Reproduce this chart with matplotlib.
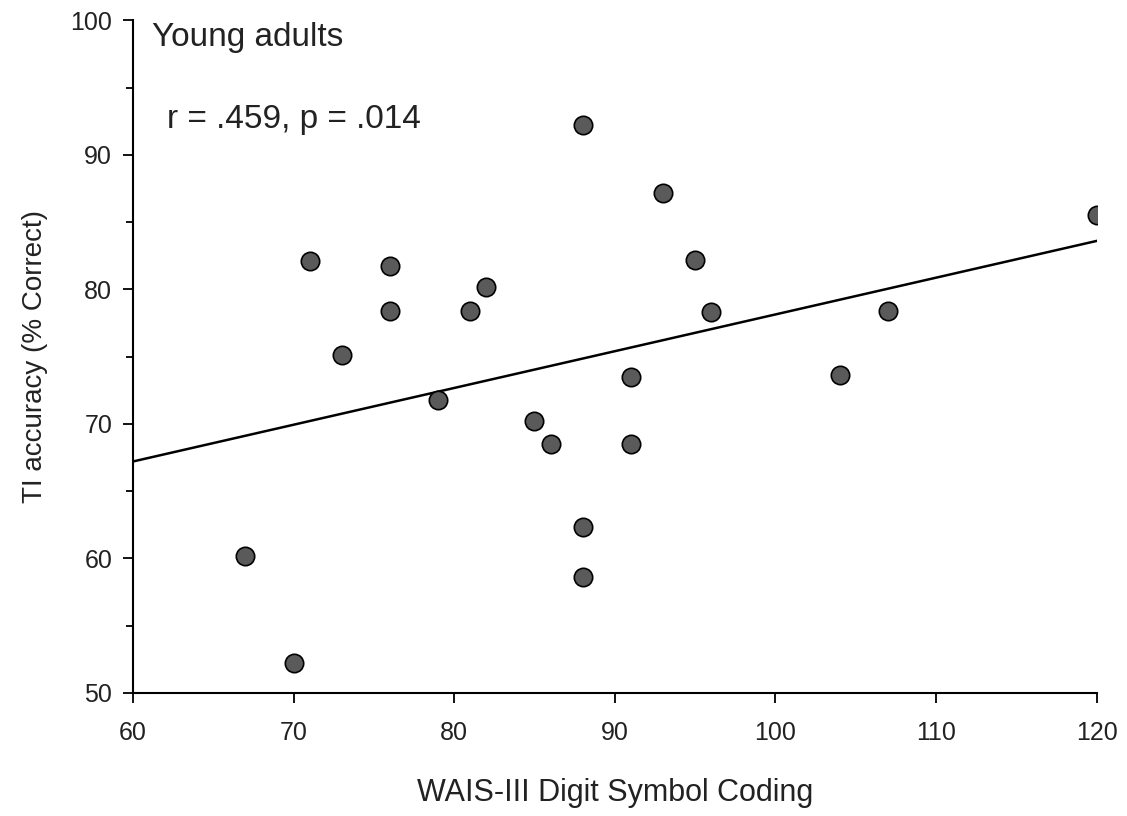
import numpy as np
import matplotlib.pyplot as plt

plt.rcParams['font.family'] = ['Liberation Sans', 'DejaVu Sans']

# WAIS-III digit symbol coding vs TI accuracy, young adults
coding = [67, 70, 71, 73, 76, 76, 79, 81, 82, 85, 86, 88, 88, 88,
          91, 91, 93, 95, 96, 104, 107, 120]
accuracy = [60.2, 52.2, 82.1, 75.1, 81.7, 78.4, 71.8, 78.4, 80.2, 70.2, 68.5, 92.2, 62.3, 58.6,
            73.5, 68.5, 87.2, 82.2, 78.3, 73.6, 78.4, 85.5]

# fitted line end points
fit_x = [60, 120]
fit_y = [67.2, 83.6]

fig = plt.figure(figsize=(11.27, 8.16), dpi=100)
ax = fig.add_axes([0.118, 0.151, 0.855, 0.824])

ax.plot(fit_x, fit_y, color='black', linewidth=1.8, zorder=2)
ax.scatter(coding, accuracy, s=175, color='#5a5a5a', edgecolors='black',
           linewidths=1.2, zorder=3)

ax.set_xlim(60, 120)
ax.set_ylim(50, 100)
ax.set_xticks(np.arange(60, 121, 10))
ax.set_yticks(np.arange(50, 101, 10))
ax.set_yticks(np.arange(55, 100, 10), minor=True)

ax.spines['top'].set_visible(False)
ax.spines['right'].set_visible(False)
ax.spines['left'].set_linewidth(1.5)
ax.spines['bottom'].set_linewidth(1.5)
ax.tick_params(axis='both', which='major', length=7, width=1.3, labelsize=18, pad=8,
               labelcolor='#222222')
ax.tick_params(axis='x', which='major', pad=13)
ax.tick_params(axis='y', which='minor', length=5, width=1.3)

ax.set_xlabel('WAIS-III Digit Symbol Coding', fontsize=22, labelpad=24, color='#222222')
ax.set_ylabel('TI accuracy (% Correct)', fontsize=20, labelpad=16, color='#222222')

ax.text(61.2, 98.1, 'Young adults', fontsize=24, va='baseline', ha='left', color='#222222')
ax.text(62.1, 92.0, 'r = .459, p = .014', fontsize=24, va='baseline', ha='left', color='#222222')

fig.savefig('out.png', dpi=100)
